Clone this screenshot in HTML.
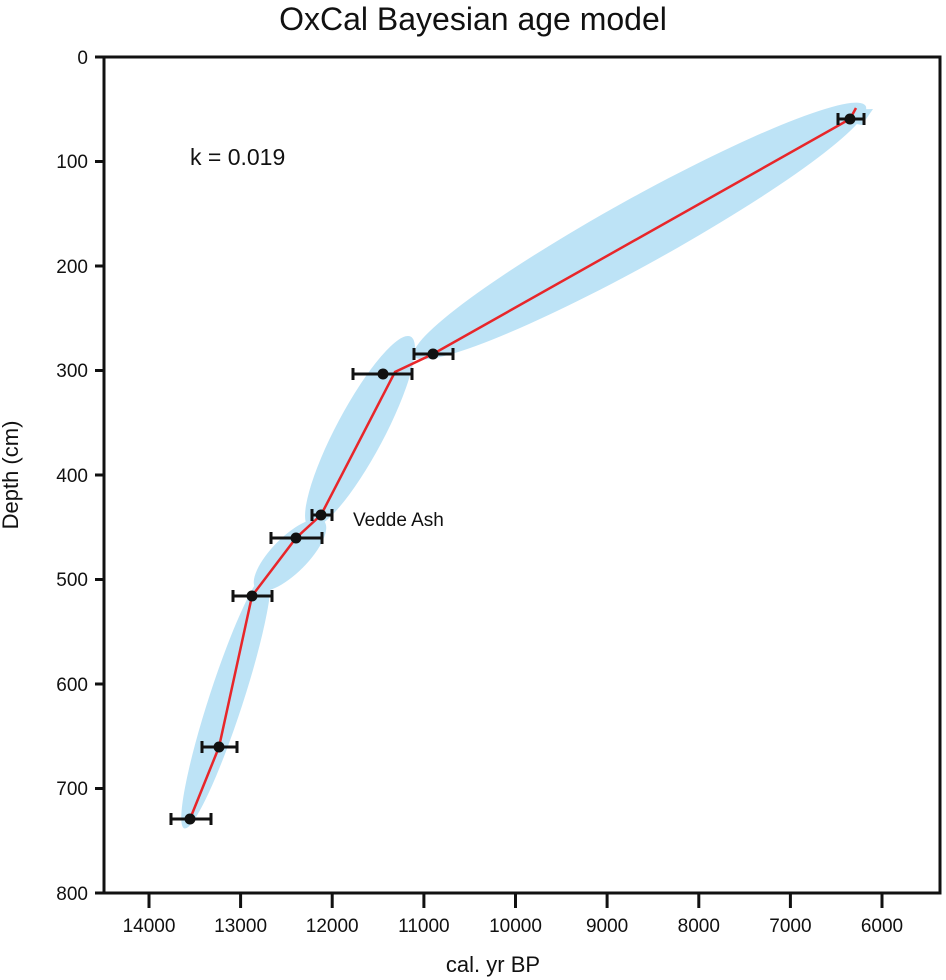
<!DOCTYPE html>
<html><head><meta charset="utf-8"><style>
html,body{margin:0;padding:0;background:#fff;}
svg{display:block;font-family:"Liberation Sans",Arial,sans-serif;}
.n{font-family:"Liberation Sans Narrow","Liberation Sans",sans-serif;}
</style></head><body>
<svg width="946" height="980" viewBox="0 0 946 980">
<text x="473" y="30" text-anchor="middle" font-size="32" fill="#111">OxCal Bayesian age model</text>
<g fill="#bde3f6">
<ellipse cx="640" cy="231" rx="258" ry="33" transform="rotate(-29 640 231)"/>
<polygon points="838,110 873,109 862,125 845,122"/>
<ellipse cx="360" cy="432" rx="108" ry="24" transform="rotate(-62 360 432)"/>
<ellipse cx="290" cy="555" rx="48" ry="18" transform="rotate(-45 290 555)"/>
<ellipse cx="226" cy="700" rx="135" ry="17" transform="rotate(-72 226 700)"/>
</g>
<polyline fill="none" stroke="#e8262a" stroke-width="2.5" points="856,108 850,119 433,354 395,372 321,515 296,538 252,596 219,747 190,819"/>
<g stroke="#111" stroke-width="3" fill="none">
<path d="M838 119H864M838 113V125M864 113V125"/>
<path d="M414 354H453M414 348V360M453 348V360"/>
<path d="M353 374H412M353 368V380M412 368V380"/>
<path d="M312 515H332M312 509V521M332 509V521"/>
<path d="M271 538H322M271 532V544M322 532V544"/>
<path d="M233 596H272M233 590V602M272 590V602"/>
<path d="M202 747H237M202 741V753M237 741V753"/>
<path d="M171 819H211M171 813V825M211 813V825"/>
</g>
<g fill="#111">
<circle cx="850" cy="119" r="5.5"/><circle cx="433" cy="354" r="5.5"/><circle cx="383" cy="374" r="5.5"/><circle cx="321" cy="515" r="5.5"/><circle cx="296" cy="538" r="5.5"/><circle cx="252" cy="596" r="5.5"/><circle cx="219" cy="747" r="5.5"/><circle cx="190" cy="819" r="5.5"/>
</g>
<rect x="104" y="57" width="836" height="836" fill="none" stroke="#111" stroke-width="3"/>
<g stroke="#111" stroke-width="3">
<path d="M95 57H104M95 161.5H104M95 266H104M95 370.5H104M95 475H104M95 579.5H104M95 684H104M95 788.5H104M95 893H104"/>
<path d="M149 893V908M240.6 893V908M332.2 893V908M423.9 893V908M515.5 893V908M607.1 893V908M698.8 893V908M790.4 893V908M882 893V908"/>
</g>
<g class="n" font-size="19" fill="#111" text-anchor="end">
<text x="88" y="64">0</text><text x="88" y="168">100</text><text x="88" y="273">200</text><text x="88" y="377">300</text><text x="88" y="482">400</text><text x="88" y="586">500</text><text x="88" y="691">600</text><text x="88" y="795">700</text><text x="88" y="900">800</text>
</g>
<g class="n" font-size="19" fill="#111" text-anchor="middle">
<text x="149" y="932">14000</text><text x="240.6" y="932">13000</text><text x="332.2" y="932">12000</text><text x="423.9" y="932">11000</text><text x="515.5" y="932">10000</text><text x="607.1" y="932">9000</text><text x="698.8" y="932">8000</text><text x="790.4" y="932">7000</text><text x="882" y="932">6000</text>
</g>
<text class="n" x="493" y="972" text-anchor="middle" font-size="22" fill="#111">cal. yr BP</text>
<text class="n" x="0" y="0" font-size="22" fill="#111" text-anchor="middle" transform="translate(18 475) rotate(-90)">Depth (cm)</text>
<text class="n" x="190" y="165" font-size="23" fill="#111">k = 0.019</text>
<text x="353" y="526" font-size="19" fill="#111">Vedde Ash</text>
</svg>
</body></html>
